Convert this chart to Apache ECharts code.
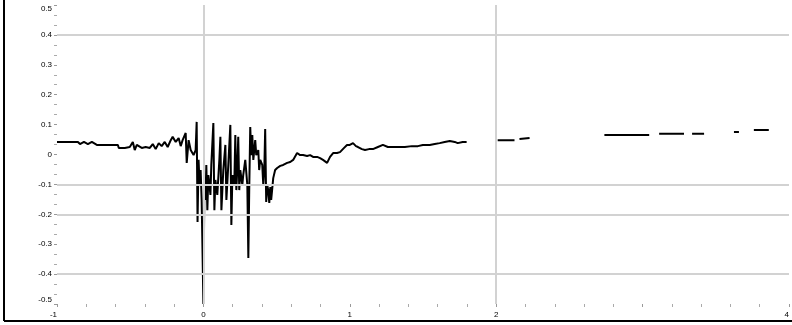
<!DOCTYPE html>
<html>
<head>
<meta charset="utf-8">
<script src="https://cdn.jsdelivr.net/npm/echarts@6/dist/echarts.min.js"></script>
<style>
  html, body { margin: 0; padding: 0; background: #fff; }
  #main { width: 792px; height: 325px; }
</style>
</head>
<body>
<div id="main"></div>
<script>
// x positions of the trace (null in ys = break in the line)
const xs = [
  -1.000, -0.946, -0.857, -0.843, -0.816, -0.789, -0.762, -0.728, -0.673, -0.625,
  -0.584, -0.578, -0.537, -0.503, -0.482, -0.469, -0.455, -0.421, -0.394, -0.366,
  -0.346, -0.326, -0.305, -0.285, -0.264, -0.244, -0.223, -0.210, -0.189, -0.169,
  -0.155, -0.142, -0.121, -0.114, -0.101, -0.087, -0.067, -0.053, -0.046, -0.040,
  -0.033, -0.026, -0.019, -0.012, 0.000, 0.007, 0.014, 0.020, 0.027, 0.034,
  0.048, 0.054, 0.068, 0.075, 0.082, 0.095, 0.109, 0.116, 0.123, 0.136,
  0.150, 0.157, 0.170, 0.184, 0.191, 0.198, 0.211, 0.218, 0.225, 0.232,
  0.238, 0.245, 0.252, 0.266, 0.272, 0.286, 0.300, 0.307, 0.313, 0.320,
  0.327, 0.334, 0.341, 0.354, 0.361, 0.375, 0.381, 0.388, 0.402, 0.409,
  0.416, 0.422, 0.429, 0.436, 0.443, 0.450, 0.457, 0.463, 0.477, 0.490,
  0.504, 0.525, 0.545, 0.572, 0.593, 0.613, 0.640, 0.661, 0.681, 0.708,
  0.729, 0.749, 0.777, 0.797, 0.817, 0.845, 0.865, 0.886, 0.913, 0.933,
  0.961, 0.981, 1.000, 1.022, 1.042, 1.056, 1.083, 1.104, 1.131, 1.158,
  1.192, 1.226, 1.260, 1.294, 1.335, 1.376, 1.424, 1.465, 1.499, 1.546,
  1.580, 1.614, 1.648, 1.683, 1.717, 1.737, 1.771, 1.798,
  1.900, 2.010, 2.125, 2.140, 2.159, 2.228, 2.500, 2.739, 3.045, 3.080,
  3.113, 3.283, 3.310, 3.338, 3.420, 3.500, 3.624, 3.658, 3.700, 3.760, 3.862
];

const ys = [
  0.042, 0.042, 0.042, 0.035, 0.042, 0.035, 0.042, 0.032, 0.032, 0.032,
  0.032, 0.022, 0.022, 0.025, 0.042, 0.015, 0.032, 0.022, 0.025, 0.022,
  0.035, 0.018, 0.038, 0.028, 0.042, 0.025, 0.048, 0.059, 0.042, 0.055,
  0.028, 0.048, 0.072, -0.028, 0.048, 0.015, -0.002, 0.015, 0.109, -0.226,
  -0.018, -0.102, -0.052, -0.152, -0.500, -0.085, -0.152, -0.035, -0.186, -0.069,
  -0.135, -0.035, 0.105, -0.186, -0.085, -0.135, -0.018, 0.059, -0.186, -0.052,
  0.032, -0.152, -0.035, 0.099, -0.236, -0.069, -0.102, 0.065, -0.119, -0.042,
  0.059, -0.119, -0.052, -0.102, -0.069, -0.018, -0.102, -0.346, -0.119, 0.092,
  -0.002, 0.065, -0.018, 0.048, -0.002, 0.015, -0.052, -0.018, -0.035, -0.102,
  -0.052, 0.085, -0.159, -0.102, -0.119, -0.162, -0.109, -0.152, -0.079, -0.052,
  -0.045, -0.038, -0.035, -0.028, -0.025, -0.018, 0.005, -0.002, -0.002, -0.005,
  -0.002, -0.008, -0.008, -0.012, -0.018, -0.028, -0.008, 0.005, 0.005, 0.008,
  0.022, 0.032, 0.032, 0.038, 0.028, 0.025, 0.018, 0.015, 0.018, 0.018,
  0.025, 0.032, 0.025, 0.025, 0.025, 0.025, 0.028, 0.028, 0.032, 0.032,
  0.035, 0.038, 0.042, 0.045, 0.042, 0.038, 0.042, 0.042,
  null, 0.048, 0.048, null, 0.052, 0.055, null, 0.065, 0.065, null,
  0.069, 0.069, null, 0.069, 0.069, null, 0.075, 0.075, null, 0.082, 0.082
];

const yGridValues = [0.4, -0.1, -0.2, -0.4];
const xGridValues = [0, 2];
const hiddenXLabels = [3];

const chart = echarts.init(document.getElementById("main"));

const labelStyle = { color: "#000", fontSize: 8, fontFamily: "Liberation Sans" };

const option = {
  backgroundColor: "#fff",
  animation: false,
  grid: { left: 57, right: 1, top: 5, bottom: 21 },
  xAxis: {
    type: "value",
    min: -1,
    max: 4,
    interval: 1,
    axisLine: { show: false, onZero: false },
    axisTick: { show: true, length: 3, lineStyle: { color: "#999" } },
    minorTick: { show: true, splitNumber: 5, length: 3, lineStyle: { color: "#aaa" } },
    splitLine: { show: false },
    axisLabel: {
      ...labelStyle,
      margin: 7,
      alignMinLabel: "right",
      alignMaxLabel: "right",
      formatter: (v) => (hiddenXLabels.includes(v) ? "" : String(v)),
    },
  },
  yAxis: {
    type: "value",
    min: -0.5,
    max: 0.5,
    interval: 0.1,
    axisLine: { show: false, onZero: false },
    axisTick: { show: true, length: 3, lineStyle: { color: "#999" } },
    minorTick: { show: true, splitNumber: 3, length: 3, lineStyle: { color: "#aaa" } },
    splitLine: { show: false },
    axisLabel: {
      ...labelStyle,
      margin: 5,
      verticalAlignMaxLabel: "top",
      verticalAlignMinLabel: "bottom",
      formatter: (v) => String(Math.round(v * 10) / 10),
    },
  },
  graphic: [
    { type: "line", shape: { x1: 4, y1: 0, x2: 4, y2: 321 }, style: { stroke: "#000", lineWidth: 2 } },
    { type: "line", shape: { x1: 4, y1: 321, x2: 792, y2: 321 }, style: { stroke: "#000", lineWidth: 2 } },
  ],
  series: [
    {
      // gridlines, kept under the trace
      type: "line",
      data: [],
      z: 1,
      silent: true,
      markLine: {
        silent: true,
        symbol: "none",
        label: { show: false },
        lineStyle: { color: "#d2d2d2", width: 2, type: "solid" },
        data: [
          ...yGridValues.map((v) => ({ yAxis: v })),
          ...xGridValues.map((v) => ({ xAxis: v })),
        ],
      },
    },
    {
      type: "line",
      z: 3,
      data: xs.map((x, i) => [x, ys[i]]),
      showSymbol: false,
      connectNulls: false,
      lineStyle: { color: "#000", width: 2 },
    },
  ],
};

chart.setOption(option);
</script>
</body>
</html>
